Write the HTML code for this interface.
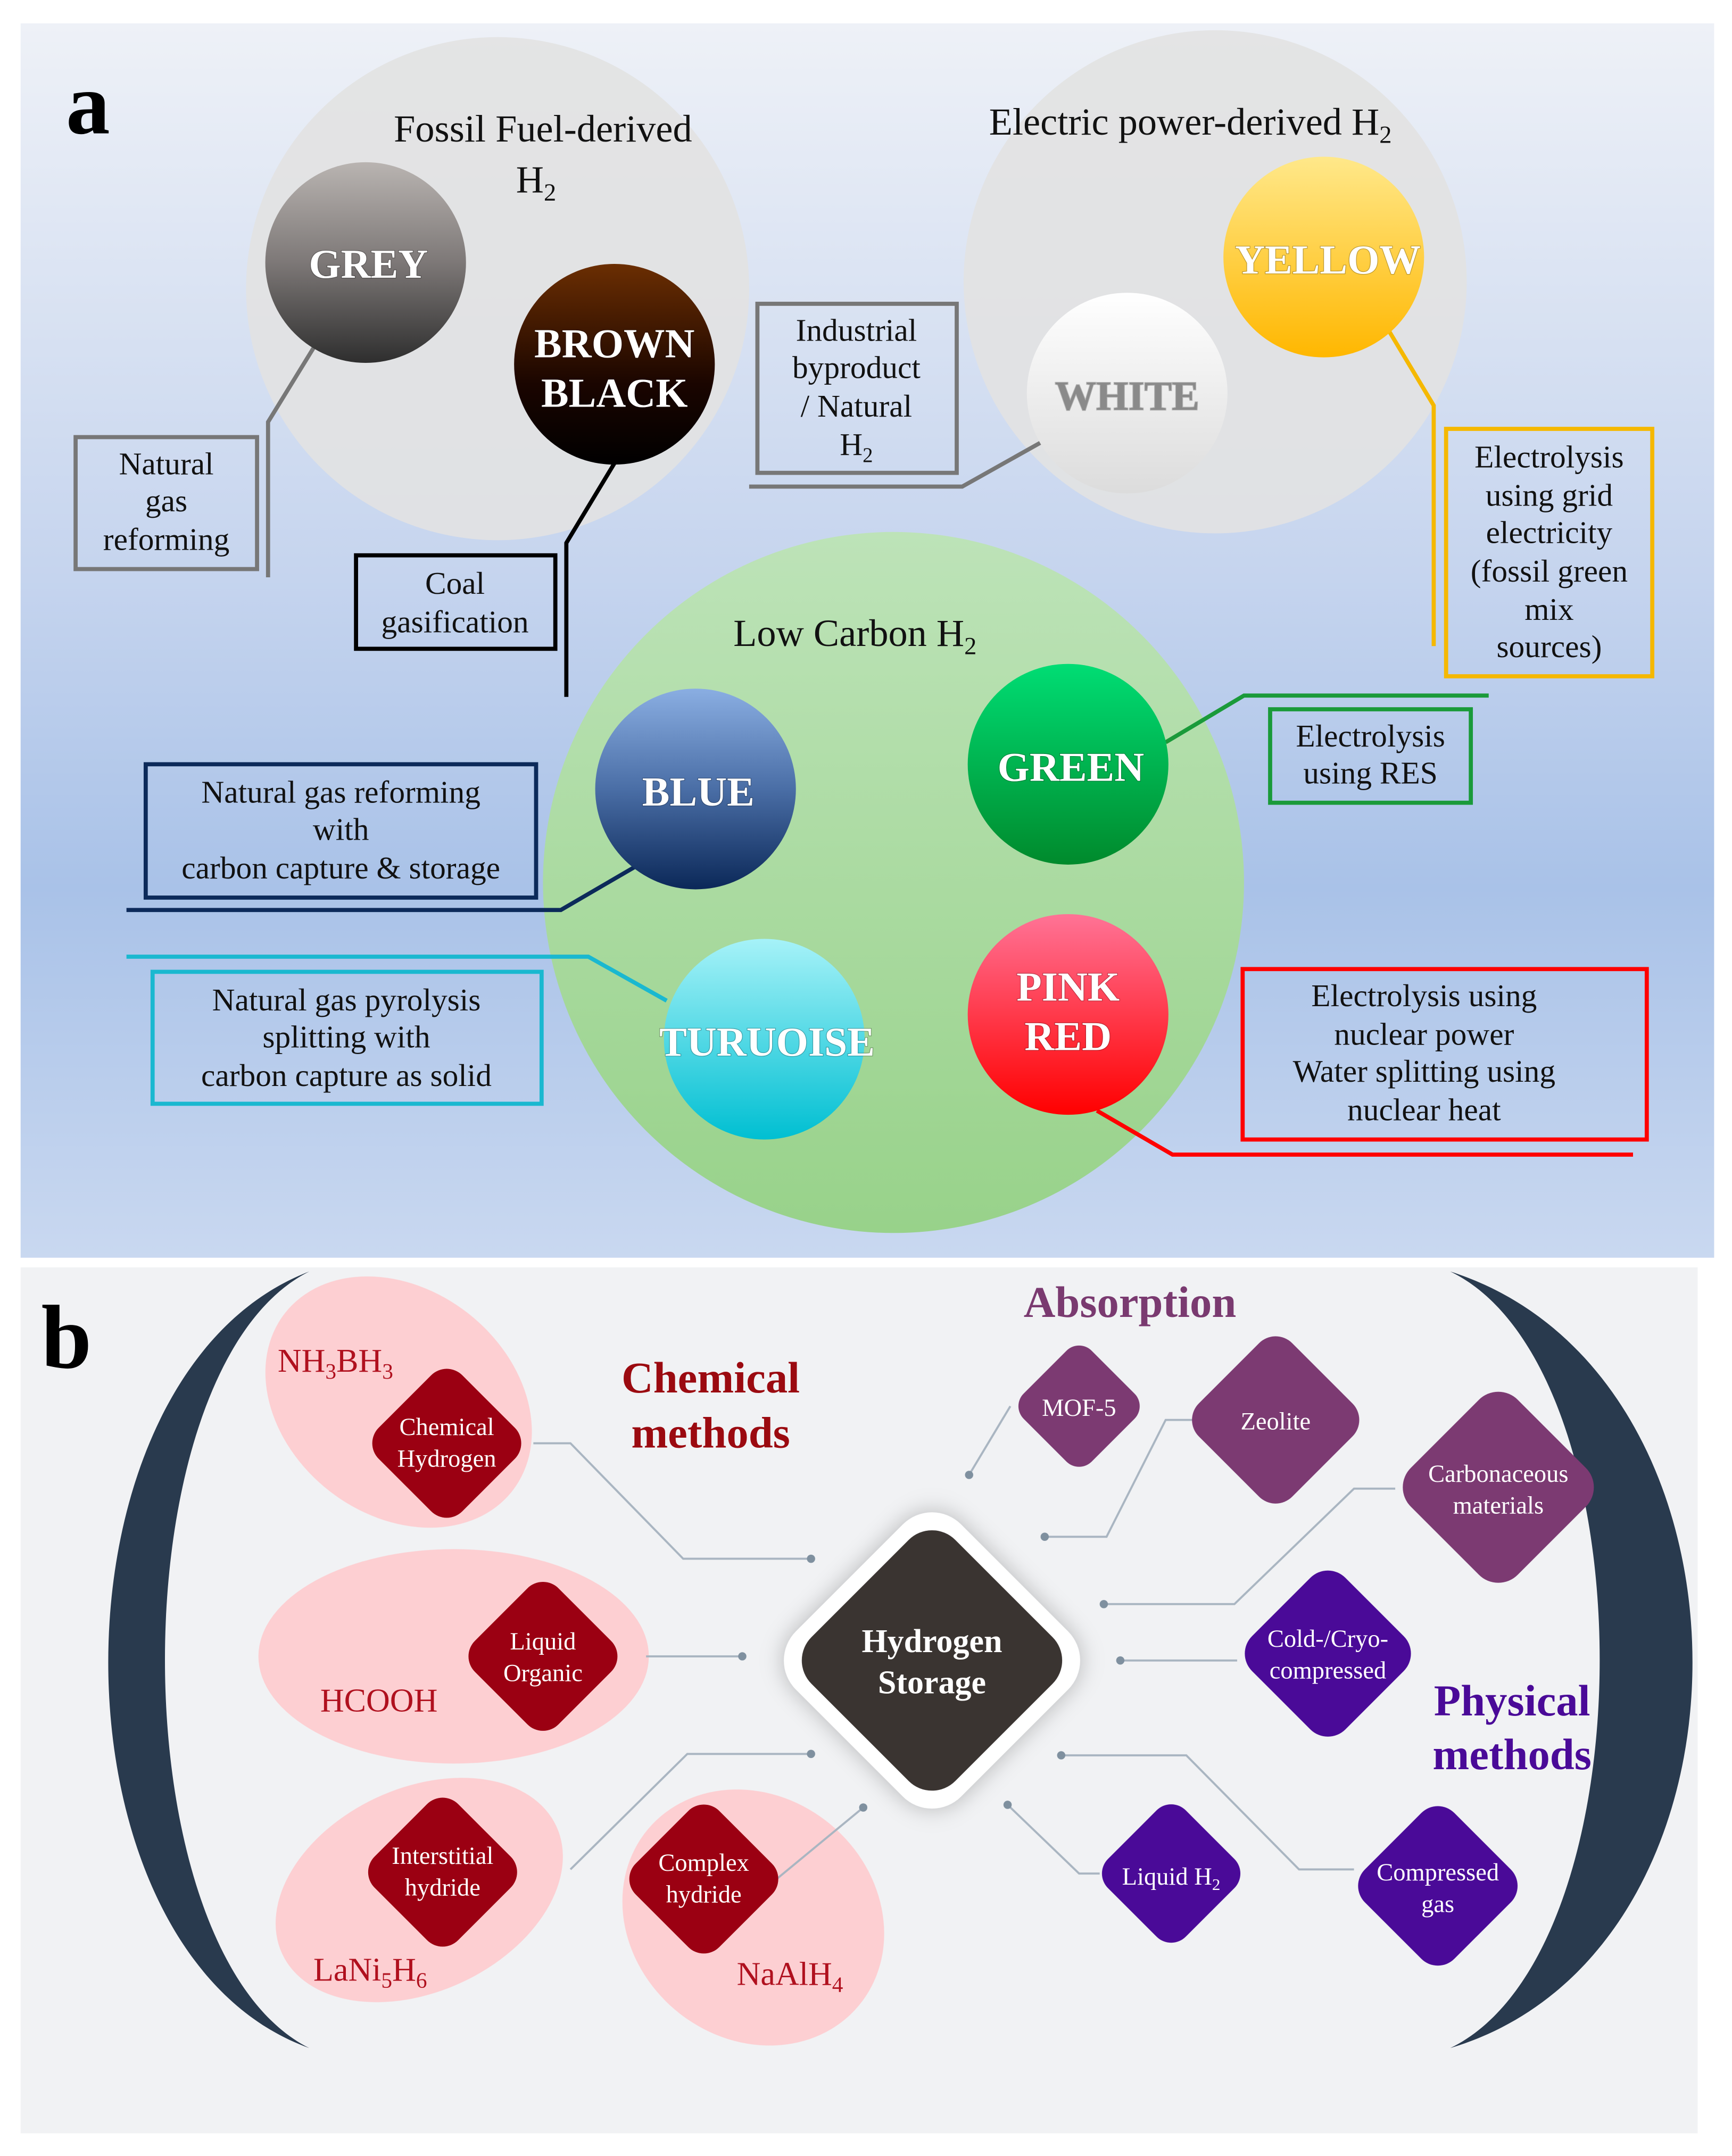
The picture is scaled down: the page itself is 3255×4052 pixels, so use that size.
<!DOCTYPE html>
<html><head><meta charset="utf-8"><style>html,body{margin:0;padding:0;background:#fff}svg{display:block}</style></head><body>
<svg width="3255" height="4052" viewBox="0 0 1260 1568.5" xmlns="http://www.w3.org/2000/svg" font-family="'Liberation Serif',serif">
<defs>
<linearGradient id="bgA" x1="0" y1="0" x2="0" y2="1"><stop offset="0" stop-color="#eef1f7"/><stop offset="0.45" stop-color="#c5d4ee"/><stop offset="0.7" stop-color="#a9c2e8"/><stop offset="1" stop-color="#c9d8f0"/></linearGradient>
<linearGradient id="lc" x1="0" y1="0" x2="0" y2="1"><stop offset="0" stop-color="#bde3b8"/><stop offset="1" stop-color="#98d28a"/></linearGradient>
<linearGradient id="gGrey" x1="0" y1="0" x2="0" y2="1"><stop offset="0" stop-color="#b9b4b1"/><stop offset="0.5" stop-color="#7d7877"/><stop offset="1" stop-color="#2e2e2e"/></linearGradient>
<linearGradient id="gBrown" x1="0" y1="0" x2="0" y2="1"><stop offset="0" stop-color="#6b2e02"/><stop offset="0.6" stop-color="#1a0500"/><stop offset="1" stop-color="#000"/></linearGradient>
<linearGradient id="gYel" x1="0" y1="0" x2="0" y2="1"><stop offset="0" stop-color="#ffe88a"/><stop offset="1" stop-color="#ffb700"/></linearGradient>
<linearGradient id="gWh" x1="0" y1="0" x2="0" y2="1"><stop offset="0" stop-color="#ffffff"/><stop offset="1" stop-color="#dcdcdc"/></linearGradient>
<linearGradient id="gBlue" x1="0" y1="0" x2="0" y2="1"><stop offset="0" stop-color="#8aaee2"/><stop offset="0.5" stop-color="#4a6ea6"/><stop offset="1" stop-color="#0b2858"/></linearGradient>
<linearGradient id="gGreen" x1="0" y1="0" x2="0" y2="1"><stop offset="0" stop-color="#00dd74"/><stop offset="1" stop-color="#008a2c"/></linearGradient>
<linearGradient id="gTur" x1="0" y1="0" x2="0" y2="1"><stop offset="0" stop-color="#a6f2f8"/><stop offset="1" stop-color="#00bfd2"/></linearGradient>
<linearGradient id="gPink" x1="0" y1="0" x2="0" y2="1"><stop offset="0" stop-color="#ff7396"/><stop offset="1" stop-color="#ff0000"/></linearGradient>
</defs>
<rect x="0" y="0" width="1260" height="1568.5" fill="#fff"/>
<rect x="15" y="17" width="1232" height="898" fill="url(#bgA)"/>
<rect x="15" y="922" width="1220" height="630" fill="#f1f2f4"/>

<circle cx="362" cy="210" r="183" fill="#e2e2e2" opacity="0.9"/>
<circle cx="884" cy="205" r="183" fill="#e2e2e2" opacity="0.9"/>
<circle cx="650" cy="642" r="255" fill="url(#lc)"/>

<g fill="none" stroke-width="3">
<polyline points="195,420 195,307 230,250" stroke="#777"/>
<polyline points="412,507 412,395 447,337" stroke="#000"/>
<polyline points="545,354 700,354 757,322" stroke="#777"/>
<polyline points="1043,470 1043,295 1010,240" stroke="#f5b800"/>
<polyline points="848,540 905,506 1083,506" stroke="#1a9a3a"/>
<polyline points="92,662 408,662 463,630" stroke="#0c2a5a"/>
<polyline points="92,696 428,696 485,728" stroke="#1ab8d0"/>
<polyline points="798,808 853,840 1188,840" stroke="#ff0000"/>
<rect x="55" y="318" width="132" height="96" stroke="#777"/>
<rect x="259" y="404" width="145" height="68" stroke="#000"/>
<rect x="551" y="221" width="145" height="123" stroke="#777"/>
<rect x="1052" y="312" width="150" height="180" stroke="#f5b800"/>
<rect x="924" y="516" width="146" height="68" stroke="#1a9a3a"/>
<rect x="106" y="556" width="284" height="97" stroke="#0c2a5a"/>
<rect x="111" y="707" width="283" height="96" stroke="#1ab8d0"/>
<rect x="904" y="705" width="294" height="124" stroke="#ff0000"/>
</g>

<circle cx="266" cy="191" r="73" fill="url(#gGrey)"/>
<circle cx="447" cy="265" r="73" fill="url(#gBrown)"/>
<circle cx="963" cy="187" r="73" fill="url(#gYel)"/>
<circle cx="820" cy="286" r="73" fill="url(#gWh)"/>
<circle cx="506" cy="574" r="73" fill="url(#gBlue)"/>
<circle cx="777" cy="556" r="73" fill="url(#gGreen)"/>
<circle cx="556" cy="756" r="73" fill="url(#gTur)"/>
<circle cx="777" cy="738" r="73" fill="url(#gPink)"/>

<g font-weight="bold" font-size="30" fill="#fff" text-anchor="middle" style="paint-order:stroke" stroke="rgba(0,0,0,0.25)" stroke-width="1">
<text x="268" y="202">GREY</text>
<text x="447" y="260">BROWN</text>
<text x="447" y="296">BLACK</text>
<text x="966" y="199">YELLOW</text>
<text x="820" y="298" fill="#8a8a8a">WHITE</text>
<text x="508" y="586">BLUE</text>
<text x="779" y="568">GREEN</text>
<text x="558" y="768">TURUOISE</text>
<text x="777" y="728">PINK</text>
<text x="777" y="764">RED</text>
</g>

<text x="48" y="97" font-size="64" font-weight="bold" fill="#000">a</text>
<g font-size="28" fill="#111" text-anchor="middle">
<text x="395" y="103">Fossil Fuel-derived</text>
<text x="390" y="140">H<tspan font-size="18" dy="6">2</tspan></text>
<text x="866" y="98">Electric power-derived  H<tspan font-size="18" dy="6">2</tspan></text>
<text x="622" y="470">Low Carbon H<tspan font-size="18" dy="6">2</tspan></text>
</g>
<g font-size="23" fill="#111" text-anchor="middle">
<text x="121" y="345">Natural</text><text x="121" y="372">gas</text><text x="121" y="400">reforming</text>
<text x="331" y="432">Coal</text><text x="331" y="460">gasification</text>
<text x="623" y="248">Industrial</text><text x="623" y="275">byproduct</text><text x="623" y="303">/ Natural</text><text x="623" y="331">H<tspan font-size="15" dy="5">2</tspan></text>
<text x="1127" y="340">Electrolysis</text><text x="1127" y="368">using grid</text><text x="1127" y="395">electricity</text><text x="1127" y="423">(fossil green</text><text x="1127" y="451">mix</text><text x="1127" y="478">sources)</text>
<text x="997" y="543">Electrolysis</text><text x="997" y="570">using RES</text>
<text x="248" y="584">Natural gas reforming</text><text x="248" y="611">with</text><text x="248" y="639">carbon capture &amp; storage</text>
<text x="252" y="735">Natural gas pyrolysis</text><text x="252" y="762">splitting with</text><text x="252" y="790">carbon capture as solid</text>
<text x="1036" y="732">Electrolysis using</text><text x="1036" y="760">nuclear power</text><text x="1036" y="787">Water splitting using</text><text x="1036" y="815">nuclear heat</text>
</g>

<path d="M225,925 C30,1000 30,1420 225,1490 C85,1420 85,995 225,925 Z" fill="#293a4e"/>
<path d="M1055,925 C1290,1000 1290,1420 1055,1490 C1200,1420 1200,995 1055,925 Z" fill="#293a4e"/>
<text x="30" y="995" font-size="66" font-weight="bold" fill="#000">b</text>

<g fill="#ffc9cc" opacity="0.85">
<ellipse cx="290" cy="1020" rx="105" ry="82" transform="rotate(38 290 1020)"/>
<ellipse cx="330" cy="1205" rx="142" ry="78"/>
<ellipse cx="305" cy="1375" rx="110" ry="74" transform="rotate(-25 305 1375)"/>
<ellipse cx="548" cy="1395" rx="100" ry="88" transform="rotate(40 548 1395)"/>
</g>

<g fill="none" stroke="#a9b5c1" stroke-width="1.5">
<polyline points="388,1050 415,1050 497,1134 590,1134"/>
<polyline points="470,1205 540,1205"/>
<polyline points="415,1360 500,1276 590,1276"/>
<polyline points="565,1367 628,1315"/>
<polyline points="705,1073 735,1023"/>
<polyline points="760,1118 805,1118 848,1033 870,1033"/>
<polyline points="803,1167 898,1167 985,1083 1015,1083"/>
<polyline points="815,1208 900,1208"/>
<polyline points="772,1277 863,1277 945,1360 985,1360"/>
<polyline points="733,1313 785,1363 800,1363"/>
</g>
<g fill="#7f909f">
<circle cx="590" cy="1134" r="3"/><circle cx="540" cy="1205" r="3"/><circle cx="590" cy="1276" r="3"/><circle cx="628" cy="1315" r="3"/>
<circle cx="705" cy="1073" r="3"/><circle cx="760" cy="1118" r="3"/><circle cx="803" cy="1167" r="3"/><circle cx="815" cy="1208" r="3"/><circle cx="772" cy="1277" r="3"/><circle cx="733" cy="1313" r="3"/>
</g>

<rect x="593" y="1123" width="170" height="170" rx="30" fill="#fff" transform="rotate(45 678 1208)" style="filter:drop-shadow(0 0 8px rgba(0,0,0,0.25))"/>
<rect x="604" y="1134" width="148" height="148" rx="24" fill="#3a3431" transform="rotate(45 678 1208)"/>

<g fill="#9b0012">
<rect x="282" y="1007" width="86" height="86" rx="16" transform="rotate(45 325 1050)"/>
<rect x="352" y="1162" width="86" height="86" rx="16" transform="rotate(45 395 1205)"/>
<rect x="279" y="1319" width="86" height="86" rx="16" transform="rotate(45 322 1362)"/>
<rect x="469" y="1324" width="86" height="86" rx="16" transform="rotate(45 512 1367)"/>
</g>
<g fill="#7c3a72">
<rect x="750" y="988" width="70" height="70" rx="13" transform="rotate(45 785 1023)"/>
<rect x="880" y="985" width="96" height="96" rx="17" transform="rotate(45 928 1033)"/>
<rect x="1035" y="1027" width="110" height="110" rx="20" transform="rotate(45 1090 1082)"/>
</g>
<g fill="#4a0a98">
<rect x="918" y="1155" width="96" height="96" rx="18" transform="rotate(45 966 1203)"/>
<rect x="812" y="1323" width="80" height="80" rx="15" transform="rotate(45 852 1363)"/>
<rect x="1000" y="1326" width="92" height="92" rx="17" transform="rotate(45 1046 1372)"/>
</g>

<g font-size="18" fill="#fff" text-anchor="middle">
<text x="325" y="1044">Chemical</text><text x="325" y="1067">Hydrogen</text>
<text x="395" y="1200">Liquid</text><text x="395" y="1223">Organic</text>
<text x="322" y="1356">Interstitial</text><text x="322" y="1379">hydride</text>
<text x="512" y="1361">Complex</text><text x="512" y="1384">hydride</text>
<text x="785" y="1030">MOF-5</text>
<text x="928" y="1040">Zeolite</text>
<text x="1090" y="1078">Carbonaceous</text><text x="1090" y="1101">materials</text>
<text x="966" y="1198">Cold-/Cryo-</text><text x="966" y="1221">compressed</text>
<text x="852" y="1371">Liquid H<tspan font-size="12" dy="4">2</tspan></text>
<text x="1046" y="1368">Compressed</text><text x="1046" y="1391">gas</text>
<text x="678" y="1202" font-size="24" font-weight="bold">Hydrogen</text><text x="678" y="1232" font-size="24" font-weight="bold">Storage</text>
</g>

<g font-weight="bold" font-size="32" text-anchor="middle">
<text x="822" y="958" fill="#7a3a70">Absorption</text>
<text x="517" y="1013" fill="#9b0a10">Chemical</text><text x="517" y="1053" fill="#9b0a10">methods</text>
<text x="1100" y="1248" fill="#4a0a98">Physical</text><text x="1100" y="1287" fill="#4a0a98">methods</text>
</g>
<g font-size="24" fill="#b0101e">
<text x="202" y="998">NH<tspan font-size="16" dy="5">3</tspan><tspan dy="-5">BH</tspan><tspan font-size="16" dy="5">3</tspan></text>
<text x="233" y="1245">HCOOH</text>
<text x="228" y="1441">LaNi<tspan font-size="16" dy="5">5</tspan><tspan dy="-5">H</tspan><tspan font-size="16" dy="5">6</tspan></text>
<text x="536" y="1444">NaAlH<tspan font-size="16" dy="5">4</tspan></text>
</g>
</svg>
</body></html>
